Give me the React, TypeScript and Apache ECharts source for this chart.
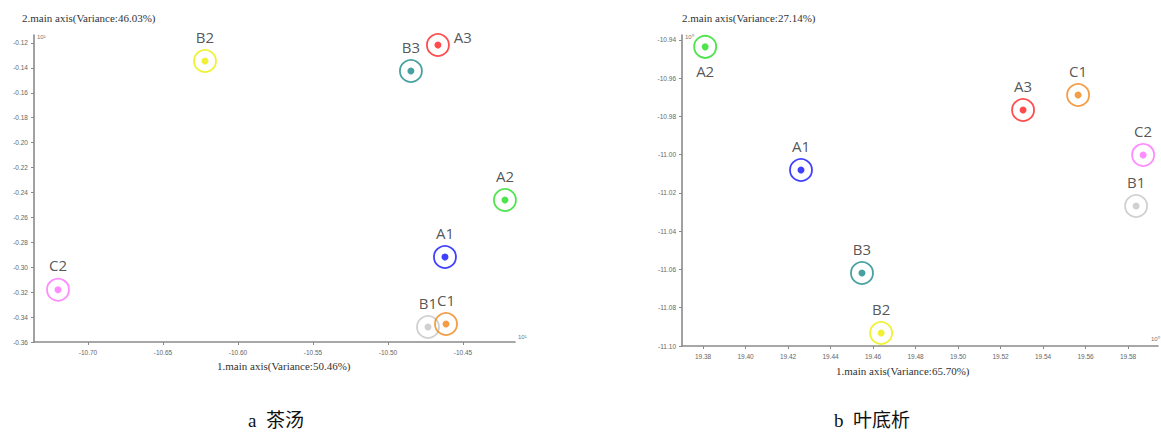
import React, { useEffect, useRef } from "react";
import * as echarts from "echarts";

const groups = ["A1", "A2", "A3", "B1", "B2", "B3", "C1", "C2"];
const groupColors = ["#1010ff", "#22dd22", "#ff2020", "#c4c4c4", "#eeee00", "#1a8a8a", "#f08418", "#ff70ff"];

// Chart a (茶汤)
const leftX = [-10.462, -10.422, -10.4667, -10.4733, -10.622, -10.4847, -10.4613, -10.72];
const leftY = [-0.2918, -0.246, -0.1216, -0.348, -0.1344, -0.1425, -0.3455, -0.318];
const leftLabelPos = ["top", "top", "right", "top", "top", "top", "top", "top"];

// Chart b (叶底析)
const rightX = [19.4261, 19.381, 19.5306, 19.5838, 19.4638, 19.4548, 19.5565, 19.5871];
const rightY = [-11.008, -10.9436, -10.9766, -11.0268, -11.0932, -11.0618, -10.9688, -11.0001];
const rightLabelPos = ["top", "bottom", "top", "top", "top", "top", "top", "top"];

const leftXTitle = "1.main axis(Variance:50.46%)";
const leftYTitle = "2.main axis(Variance:46.03%)";
const rightXTitle = "1.main axis(Variance:65.70%)";
const rightYTitle = "2.main axis(Variance:27.14%)";
const captionA = "a  茶汤";
const captionB = "b  叶底析";

const axisLine = { show: true, lineStyle: { color: "#8a8a8a", width: 1.6 } };
const tickLabel = (decimals: number) => ({
  fontSize: 6.5,
  color: "#666",
  fontFamily: "Liberation Sans",
  formatter: (v: number) => v.toFixed(decimals),
});

function buildSeries(xs: number[], ys: number[], pos: string[], xi: number) {
  const ring = {
    type: "scatter",
    xAxisIndex: xi,
    yAxisIndex: xi,
    symbol: "circle",
    symbolSize: 22,
    z: 3,
    data: groups.map((g, i) => ({
      value: [xs[i], ys[i]],
      name: g,
      itemStyle: { color: "rgba(255,255,255,0)", borderColor: groupColors[i], borderWidth: 1.8 },
      label: {
        show: true,
        position: pos[i],
        distance: pos[i] === "right" ? 4 : 5,
        offset: pos[i] === "right" ? [0, -8] : [0, 0],
        formatter: g,
        fontSize: 15,
        color: "#2a2a2a",
        fontFamily: "Open Sans",
      },
    })),
  };
  const dots = {
    type: "scatter",
    xAxisIndex: xi,
    yAxisIndex: xi,
    symbol: "circle",
    symbolSize: 7,
    z: 4,
    data: groups.map((g, i) => ({
      value: [xs[i], ys[i]],
      itemStyle: { color: groupColors[i] },
    })),
  };
  return [ring, dots];
}

export default function App() {
  const ref = useRef<HTMLDivElement>(null);
  useEffect(() => {
    if (!ref.current) return;
    const chart = echarts.init(ref.current, null, { renderer: "svg" });
    const serif = "Liberation Serif";
    chart.setOption({
      animation: false,
      backgroundColor: "#fff",
      grid: [
        { left: 34, top: 35, width: 481, height: 307 },
        { left: 682, top: 35, width: 476, height: 311 },
      ],
      xAxis: [
        {
          gridIndex: 0,
          type: "value",
          min: -10.736,
          max: -10.4153,
          splitNumber: 6,
          axisLine,
          axisTick: { show: true, length: 3, lineStyle: { color: "#8a8a8a" } },
          axisLabel: { ...tickLabel(2), margin: 7, showMinLabel: false, showMaxLabel: false },
          splitLine: { show: false },
        },
        {
          gridIndex: 1,
          type: "value",
          min: 19.3701,
          max: 19.5941,
          splitNumber: 11,
          axisLine,
          axisTick: { show: true, length: 3, lineStyle: { color: "#8a8a8a" } },
          axisLabel: { ...tickLabel(2), margin: 7, showMinLabel: false, showMaxLabel: false },
          splitLine: { show: false },
        },
      ],
      yAxis: [
        {
          gridIndex: 0,
          type: "value",
          min: -0.36,
          max: -0.11358,
          splitNumber: 12,
          axisLine,
          axisTick: { show: true, length: 3, lineStyle: { color: "#8a8a8a" } },
          axisLabel: { ...tickLabel(2), margin: 6, showMaxLabel: false },
          splitLine: { show: false },
        },
        {
          gridIndex: 1,
          type: "value",
          min: -11.1,
          max: -10.9374,
          splitNumber: 8,
          axisLine,
          axisTick: { show: true, length: 3, lineStyle: { color: "#8a8a8a" } },
          axisLabel: { ...tickLabel(2), margin: 6, showMaxLabel: false },
          splitLine: { show: false },
        },
      ],
      series: [
        ...buildSeries(leftX, leftY, leftLabelPos, 0),
        ...buildSeries(rightX, rightY, rightLabelPos, 1),
      ],
      graphic: [
        { type: "text", left: 22, top: 12, style: { text: leftYTitle, font: `11px '${serif}'`, fill: "#333" } },
        { type: "text", left: 217, top: 360, style: { text: leftXTitle, font: `11px '${serif}'`, fill: "#333" } },
        { type: "text", left: 682, top: 12, style: { text: rightYTitle, font: `11px '${serif}'`, fill: "#333" } },
        { type: "text", left: 836, top: 365, style: { text: rightXTitle, font: `11px '${serif}'`, fill: "#333" } },
        { type: "text", left: 37, top: 34, style: { text: "10¹", font: "6px 'Liberation Sans'", fill: "#777" } },
        { type: "text", left: 518, top: 334, style: { text: "10¹", font: "6px 'Liberation Sans'", fill: "#777" } },
        { type: "text", left: 685, top: 34, style: { text: "10⁰", font: "6px 'Liberation Sans'", fill: "#777" } },
        { type: "text", left: 1151, top: 336, style: { text: "10⁰", font: "6px 'Liberation Sans'", fill: "#777" } },
        { type: "text", left: 248, top: 411, style: { text: captionA, font: `19px '${serif}', 'Noto Sans CJK SC'`, fill: "#111" } },
        { type: "text", left: 834, top: 411, style: { text: captionB, font: `19px '${serif}', 'Noto Sans CJK SC'`, fill: "#111" } },
      ],
    });
    return () => chart.dispose();
  }, []);
  return <div ref={ref} style={{ position: "fixed", left: 0, top: 0, width: 1161, height: 434 }} />;
}
